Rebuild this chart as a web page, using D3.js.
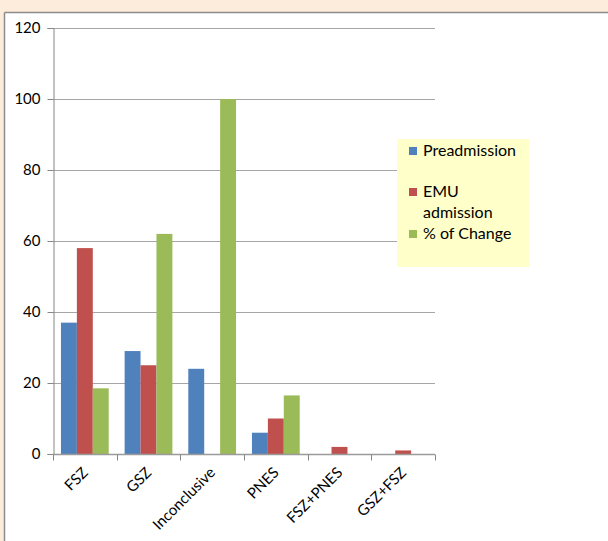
<!DOCTYPE html>
<html>
<head>
<meta charset="utf-8">
<script src="https://cdn.jsdelivr.net/npm/d3@7"></script>
<style>
  html, body { margin: 0; padding: 0; background: #fdecdc; }
  svg { display: block; }
</style>
</head>
<body>
<svg id="chart" width="608" height="541"></svg>
<script>
// Diagnosis categories and the three series shown per category
const categories = ["FSZ", "GSZ", "Inconclusive", "PNES", "FSZ+PNES", "GSZ+FSZ"];
const seriesNames = ["Preadmission", "EMU admission", "% of Change"];
const preadmission = [37, 29, 24, 6, 0, 0];
const emuAdmission = [58, 25, 0, 10, 2, 1];
const pctChange = [18.5, 62, 100, 16.5, 0, 0];
const yTicks = [0, 20, 40, 60, 80, 100, 120];
const colors = ["#4f81bd", "#c0504d", "#9bbb59"];

const seriesValues = [preadmission, emuAdmission, pctChange];
const fontFamily = "Lato, 'Open Sans', sans-serif";

const svg = d3.select("#chart");

// White chart frame with a grey top/left edge
svg.append("rect").attr("x", 5).attr("y", 13).attr("width", 603).attr("height", 528).attr("fill", "#ffffff");
svg.append("line").attr("x1", 4.5).attr("x2", 608).attr("y1", 12.5).attr("y2", 12.5).attr("stroke", "#8c8c8c").attr("stroke-width", 1.5);
svg.append("line").attr("x1", 4.5).attr("x2", 4.5).attr("y1", 12.5).attr("y2", 541).attr("stroke", "#8c8c8c").attr("stroke-width", 1.5);

const plot = { left: 53, right: 435, top: 28, bottom: 454 };

const x = d3.scaleBand().domain(categories).range([plot.left, plot.right]).paddingInner(0).paddingOuter(0);
const inner = d3.scaleBand().domain(d3.range(seriesNames.length))
  .range([0, x.bandwidth()]).paddingInner(0).paddingOuter(0.5);
const y = d3.scaleLinear().domain([0, 120]).range([plot.bottom, plot.top]);

// Horizontal gridlines
svg.append("g").selectAll("line").data(yTicks.filter(d => d > 0)).join("line")
  .attr("x1", plot.left).attr("x2", plot.right)
  .attr("y1", d => Math.round(y(d)) + 0.5).attr("y2", d => Math.round(y(d)) + 0.5)
  .attr("stroke", "#a6a6a6").attr("stroke-width", 1);

// Bars
const groups = svg.append("g").selectAll("g").data(categories).join("g")
  .attr("transform", d => `translate(${x(d)},0)`);
groups.selectAll("rect")
  .data((c, i) => seriesValues.map((vals, s) => ({ s, v: vals[i] })))
  .join("rect")
  .attr("x", d => inner(d.s))
  .attr("width", inner.bandwidth())
  .attr("y", d => y(d.v))
  .attr("height", d => y(0) - y(d.v))
  .attr("fill", d => colors[d.s]);

// Y axis
const yAxis = svg.append("g").attr("transform", `translate(${plot.left + 0.5},0)`)
  .call(d3.axisLeft(y).tickValues(yTicks).tickSize(6).tickPadding(7));
yAxis.select(".domain").attr("stroke", "#868686");
yAxis.selectAll(".tick line").attr("stroke", "#868686");
yAxis.selectAll(".tick text")
  .attr("font-family", fontFamily).attr("font-size", 15).attr("fill", "#000");

// X axis with ticks at category boundaries
const xAxisG = svg.append("g").attr("transform", `translate(0,${plot.bottom + 0.5})`);
xAxisG.append("line").attr("x1", plot.left).attr("x2", plot.right)
  .attr("stroke", "#9a9a9a").attr("stroke-width", 1.5);
xAxisG.selectAll("line.tk").data(d3.range(categories.length + 1)).join("line")
  .attr("class", "tk")
  .attr("x1", i => Math.round(plot.left + i * x.step()) + 0.5)
  .attr("x2", i => Math.round(plot.left + i * x.step()) + 0.5)
  .attr("y1", 0).attr("y2", 6)
  .attr("stroke", "#868686");
xAxisG.selectAll("text").data(categories).join("text")
  .attr("transform", d => `translate(${x(d) + x.bandwidth() / 2 + 4},${19}) rotate(-45)`)
  .attr("text-anchor", "end")
  .attr("font-family", fontFamily).attr("font-size", 15).attr("fill", "#000")
  .text(d => d);

// Legend
const legend = svg.append("g").attr("transform", "translate(397,139)");
legend.append("rect").attr("width", 132).attr("height", 128).attr("fill", "#ffffc9");
const legendRows = [
  { s: 0, lines: ["Preadmission"], y: 12 },
  { s: 1, lines: ["EMU", "admission"], y: 53 },
  { s: 2, lines: ["% of Change"], y: 95 }
];
legendRows.forEach(r => {
  legend.append("rect").attr("x", 12).attr("y", r.y - 4).attr("width", 8).attr("height", 8).attr("fill", colors[r.s]);
  r.lines.forEach((t, k) => {
    legend.append("text").attr("x", 26).attr("y", r.y + 5 + k * 21)
      .attr("font-family", fontFamily).attr("font-size", 16).attr("fill", "#000").text(t);
  });
});
</script>
</body>
</html>
